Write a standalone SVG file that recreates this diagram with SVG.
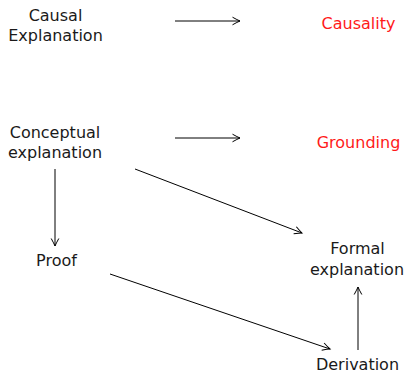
<svg xmlns="http://www.w3.org/2000/svg" width="407" height="375" viewBox="0 0 407 375">
<defs>
<style>
text{font-family:"DejaVu Sans","Liberation Sans",sans-serif;font-size:16px;fill:#1a1a1a;text-anchor:middle}
text.red{fill:#ff1a1a}
.c line{stroke:#000;stroke-width:1;fill:none;marker-end:url(#ah)}
</style>
<marker id="ah" markerUnits="userSpaceOnUse" markerWidth="12" markerHeight="12" refX="0" refY="0" viewBox="-9 -6 11 12" orient="auto" overflow="visible">
<path d="M-7.5,-3.8 Q-2.5,-1 0,0 Q-2.5,1 -7.5,3.8" fill="none" stroke="#000" stroke-width="1"/>
</marker>
</defs>
<rect width="407" height="375" fill="#fff"/>
<g id="causal-explanation"><text x="55.5" y="21">Causal</text><text x="55.5" y="41">Explanation</text></g>
<g id="causality"><text class="red" x="358.5" y="29">Causality</text></g>
<g id="conceptual-explanation"><text x="55" y="138">Conceptual</text><text x="55" y="158">explanation</text></g>
<g id="grounding"><text class="red" x="358.5" y="148">Grounding</text></g>
<g id="proof"><text x="56.5" y="266">Proof</text></g>
<g id="formal-explanation"><text x="357.5" y="254">Formal</text><text x="357" y="275">explanation</text></g>
<g id="derivation"><text x="357.5" y="370">Derivation</text></g>
<g id="connectors" class="c">
<line x1="175" y1="21" x2="240" y2="21"/>
<line x1="175" y1="138" x2="240" y2="138"/>
<line x1="55" y1="169" x2="55" y2="246"/>
<line x1="135" y1="169" x2="302" y2="233"/>
<line x1="110" y1="274" x2="330" y2="349"/>
<line x1="358" y1="350" x2="358" y2="287"/>
</g>
</svg>
